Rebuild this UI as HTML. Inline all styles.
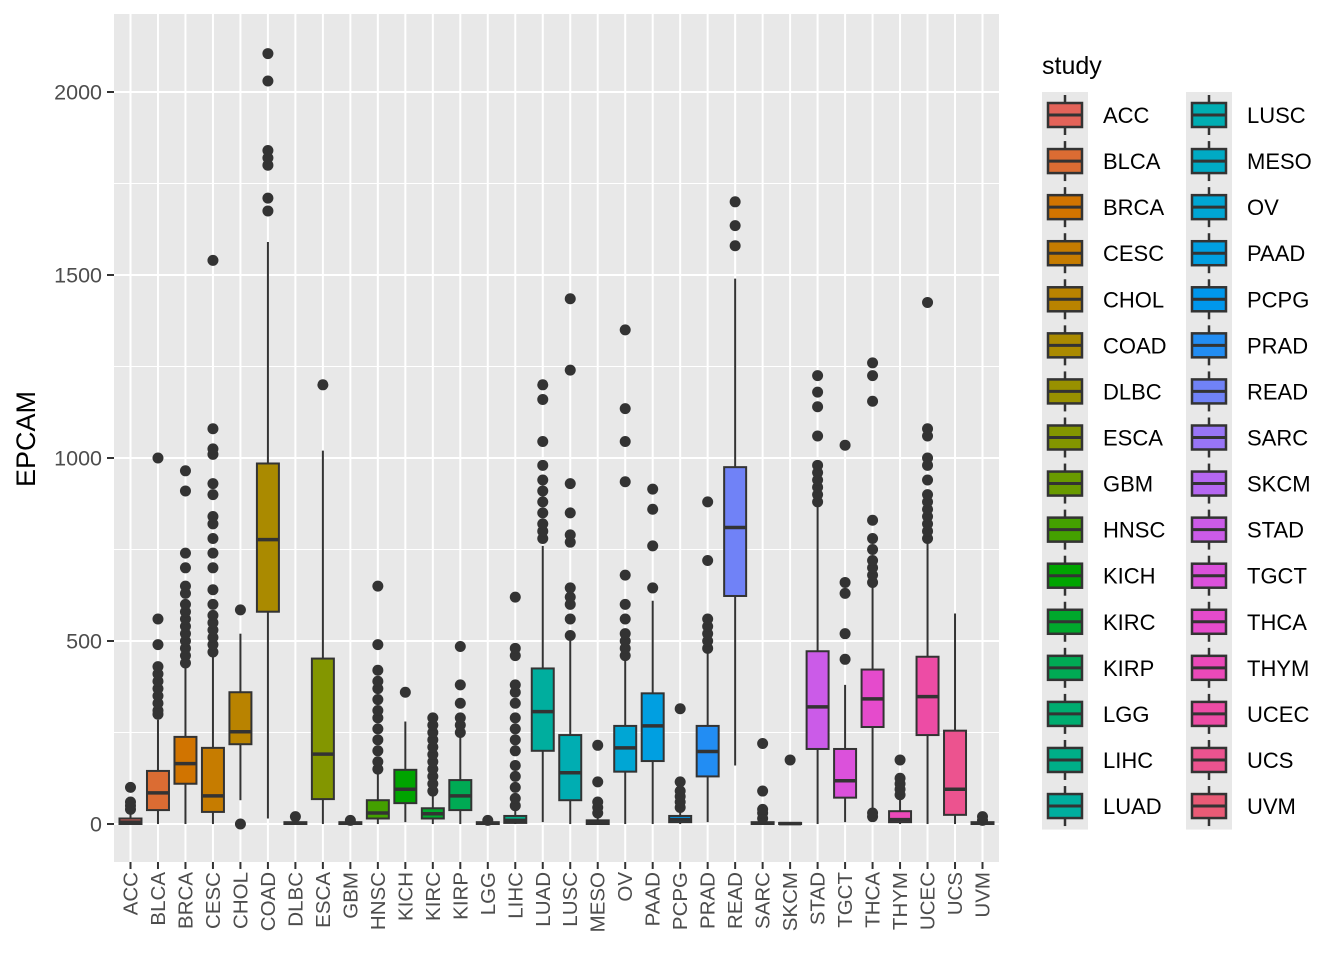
<!DOCTYPE html>
<html><head><meta charset="utf-8"><style>
html,body{margin:0;padding:0;background:#fff;}
svg text{font-family:"Liberation Sans",Arial,sans-serif;}
</style></head><body>
<svg id="chart" width="1344" height="960" viewBox="0 0 1344 960" xmlns="http://www.w3.org/2000/svg"></svg>
<script>
const categories=["ACC","BLCA","BRCA","CESC","CHOL","COAD","DLBC","ESCA","GBM","HNSC","KICH","KIRC","KIRP","LGG","LIHC","LUAD","LUSC","MESO","OV","PAAD","PCPG","PRAD","READ","SARC","SKCM","STAD","TGCT","THCA","THYM","UCEC","UCS","UVM"];
const whiskerLow=[0,0,0,0,65,15,0,0,0,0,5,0,0,0,0,5,0,0,0,0,0,5,160,0,0,0,5,40,0,0,0,0];
const q1=[0,38,110,33,218,580,0,68,0,15,57,15,38,0,3,200,65,0,143,172,5,130,623,0,0,205,72,265,5,243,25,0];
const median=[5,85,165,77,252,777,2,191,2,30,95,28,77,2,10,307,140,4,208,268,12,198,810,2,1,320,118,342,12,348,95,2];
const q3=[15,145,238,208,360,985,5,452,5,65,148,43,120,5,22,425,243,10,268,357,22,268,975,5,3,472,205,422,35,457,255,5];
const whiskerHigh=[30,285,430,460,520,1590,15,1020,8,140,280,80,240,8,50,760,500,25,450,610,40,470,1490,10,5,870,380,650,75,770,575,8];
const outliers=[
[40,50,60,100],
[300,310,330,350,370,390,410,430,490,560,1000],
[440,460,480,500,520,540,560,580,600,630,650,700,740,910,965],
[470,490,510,530,550,570,600,640,700,740,780,820,840,900,930,1010,1025,1080,1540],
[0,585],
[1675,1710,1800,1820,1840,2030,2105],
[20],
[1200],
[10],
[150,170,200,230,260,290,310,340,370,390,420,490,650],
[360],
[90,110,130,150,170,190,210,230,250,270,290],
[250,270,290,330,380,485],
[10],
[50,70,100,130,160,200,230,260,290,330,360,380,460,480,620],
[780,800,820,850,880,910,940,980,1045,1160,1200],
[515,560,600,620,645,770,790,850,930,1240,1435],
[30,45,60,115,215],
[460,480,500,520,560,600,680,935,1045,1135,1350],
[645,760,860,915],
[45,60,75,90,115,315],
[480,500,520,540,560,720,880],
[1580,1635,1700],
[15,30,40,90,220],
[175],
[880,900,920,940,960,980,1060,1140,1180,1225],
[450,520,630,660,1035],
[20,30,660,680,700,720,750,780,830,1155,1225,1260],
[80,95,110,125,175],
[780,800,820,840,860,880,900,940,980,1000,1060,1080,1425],
[],
[10,20]
];
const yTicks=[0,500,1000,1500,2000];
const yMinor=[250,750,1250,1750];

const NS="http://www.w3.org/2000/svg";
const svg=document.getElementById('chart');
function mk(tag,attrs,parent){const e=document.createElementNS(NS,tag);for(const k in attrs)e.setAttribute(k,attrs[k]);(parent||svg).appendChild(e);return e;}
function hcl(h){const L=58,C=100;const hr=h*Math.PI/180;const u=C*Math.cos(hr),v=C*Math.sin(hr);
const Xn=95.047,Yn=100,Zn=108.883;const Y=Yn*Math.pow((L+16)/116,3);const den=Xn+15*Yn+3*Zn;const un=4*Xn/den,vn=9*Yn/den;
const up=u/(13*L)+un,vp=v/(13*L)+vn;const X=Y*9*up/(4*vp),Z=Y*(12-3*up-20*vp)/(4*vp);
const x=X/100,y=Y/100,z=Z/100;let r=3.2404542*x-1.5371385*y-0.4985314*z,g=-0.9692660*x+1.8760108*y+0.0415560*z,b=0.0556434*x-0.2040259*y+1.0572252*z;
const gm=c=>{c=c<=0.0031308?12.92*c:1.055*Math.pow(c,1/2.4)-0.055;return Math.round(Math.max(0,Math.min(1,c))*255);};
return `rgb(${gm(r)},${gm(g)},${gm(b)})`;}
const n=categories.length;
const colors=categories.map((c,i)=>hcl(15+360*i/(n)));

const PL=114,PR=999,PT=14,PB=862;
const step=(PR-PL)/(n+0.2);
const xs=i=>PL+step*(0.6+i);
const ys=v=>824-v*0.366;

const panel=mk('rect',{x:PL,y:PT,width:PR-PL,height:PB-PT,fill:'#e8e8e8'});

const grid=mk('g',{});
yMinor.forEach(v=>mk('line',{x1:PL,x2:PR,y1:ys(v),y2:ys(v),stroke:'#fff','stroke-width':1},grid));
yTicks.forEach(v=>mk('line',{x1:PL,x2:PR,y1:ys(v),y2:ys(v),stroke:'#fff','stroke-width':2},grid));
categories.forEach((c,i)=>mk('line',{x1:xs(i),x2:xs(i),y1:PT,y2:PB,stroke:'#fff','stroke-width':2},grid));

const bw=step*0.8;
categories.forEach((c,i)=>{
 const g=mk('g',{});
 const x=xs(i);
 mk('line',{x1:x,x2:x,y1:ys(whiskerLow[i]),y2:ys(q1[i]),stroke:'#333','stroke-width':2},g);
 mk('line',{x1:x,x2:x,y1:ys(q3[i]),y2:ys(whiskerHigh[i]),stroke:'#333','stroke-width':2},g);
 mk('rect',{x:x-bw/2,y:ys(q3[i]),width:bw,height:Math.max(0.5,ys(q1[i])-ys(q3[i])),fill:colors[i],stroke:'#333','stroke-width':2},g);
 mk('line',{x1:x-bw/2,x2:x+bw/2,y1:ys(median[i]),y2:ys(median[i]),stroke:'#333','stroke-width':3.5},g);
 outliers[i].forEach(o=>mk('circle',{cx:x,cy:ys(o),r:5.5,fill:'#333'},g));
});

const ya=mk('g',{});
yTicks.forEach(v=>{mk('line',{x1:PL-7,x2:PL,y1:ys(v),y2:ys(v),stroke:'#333','stroke-width':2},ya);
 const t=mk('text',{x:PL-12,y:ys(v)+7.5,'text-anchor':'end','font-size':21.5,fill:'#4d4d4d'},ya);t.textContent=v;});
const xa=mk('g',{});
categories.forEach((c,i)=>{const x=xs(i);mk('line',{x1:x,x2:x,y1:PB,y2:PB+7,stroke:'#333','stroke-width':2},xa);
 const t=mk('text',{x:0,y:0,'text-anchor':'end','font-size':20.5,fill:'#4d4d4d',transform:`translate(${x+7},${PB+10}) rotate(-90)`},xa);t.textContent=c;});
const yt=mk('text',{x:0,y:0,'text-anchor':'middle','font-size':27,fill:'#000',transform:'translate(35,439) rotate(-90)'});
yt.textContent='EPCAM';

const lg=mk('g',{});
const lt=mk('text',{x:1042,y:74,'font-size':25,fill:'#000'},lg);lt.textContent='study';
categories.forEach((c,i)=>{const col=i<16?0:1,row=i%16;const kx=col?1186:1042,ky=92+row*46.07;
 const e=mk('g',{},lg);
 mk('rect',{x:kx,y:ky,width:46,height:46.5,fill:'#e8e8e8'},e);
 const cx=kx+23,cy=ky+23;
 mk('line',{x1:cx,x2:cx,y1:ky+3,y2:ky+43,stroke:'#333','stroke-width':2.5},e);
 mk('rect',{x:kx+6,y:ky+11,width:34,height:24,fill:colors[i],stroke:'#333','stroke-width':2.5},e);
 mk('line',{x1:kx+6,x2:kx+40,y1:cy,y2:cy,stroke:'#333','stroke-width':3},e);
 const t=mk('text',{x:kx+61,y:cy+8,'font-size':22,fill:'#000'},e);t.textContent=c;});
</script>
</body></html>
